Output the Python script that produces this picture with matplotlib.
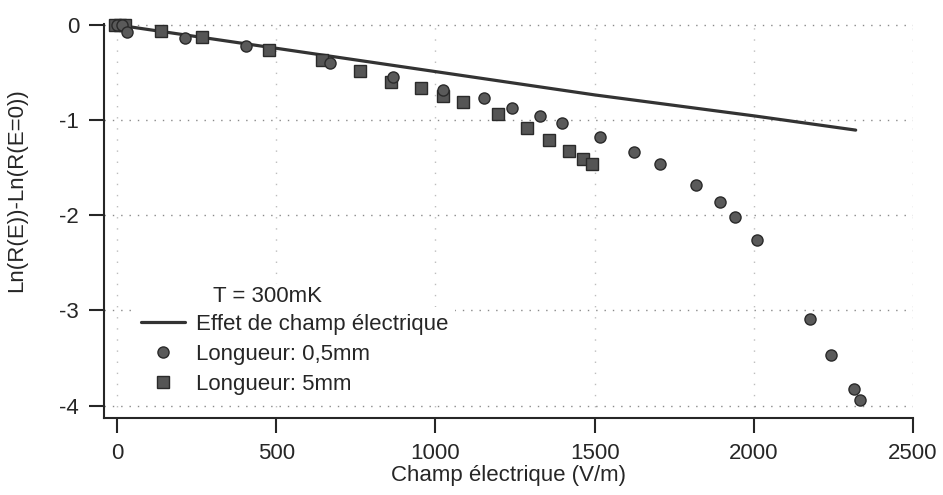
import matplotlib
matplotlib.use("Agg")
import matplotlib.pyplot as plt
from matplotlib.transforms import IdentityTransform

plt.rcParams['font.family'] = ['Liberation Sans', 'DejaVu Sans']
plt.rcParams['axes.unicode_minus'] = False

# Theoretical curve: electric field effect
line_x = [0, 500, 1000, 1500, 2000, 2320]
line_y = [0, -0.245, -0.49, -0.735, -0.955, -1.105]

# Length 0.5 mm (circles)
circ_x = [0, 15, 31, 214, 405, 670, 868, 1025, 1151, 1242, 1327, 1399, 1516,
          1623, 1705, 1818, 1893, 1940, 2009, 2177, 2242, 2315, 2334]
circ_y = [0, 0, -0.07, -0.14, -0.22, -0.40, -0.55, -0.68, -0.77, -0.87, -0.96,
          -1.03, -1.18, -1.33, -1.46, -1.68, -1.86, -2.02, -2.26, -3.09, -3.47,
          -3.83, -3.94]

# Length 5 mm (squares)
sq_x = [-5, 10, 25, 138, 267, 478, 644, 764, 860, 956, 1025, 1088, 1195, 1289,
        1358, 1418, 1465, 1491]
sq_y = [0, 0, 0, -0.06, -0.13, -0.26, -0.37, -0.48, -0.60, -0.66, -0.75, -0.81,
        -0.94, -1.08, -1.21, -1.32, -1.41, -1.46]

x_ticks = [0, 500, 1000, 1500, 2000, 2500]
y_ticks = [0, -1, -2, -3, -4]

fig = plt.figure(figsize=(9.43, 4.95), dpi=100)
ax = fig.add_axes([104/943, 1-418/495, (913-104)/943, (418-24)/495])

ink = '#262626'
fs = 16

ax.plot(line_x, line_y, color='#333333', lw=2.3, solid_capstyle='round',
        label='Effet de champ électrique', zorder=3)
ax.plot(sq_x, sq_y, ls='none', marker='s', ms=8.5, mfc='#555555', mec='#2a2a2a',
        mew=1.0, label='Longueur: 5mm', zorder=4, clip_on=False)
ax.plot(circ_x, circ_y, ls='none', marker='o', ms=8, mfc='#5a5a5a', mec='#2a2a2a',
        mew=1.0, label='Longueur: 0,5mm', zorder=4, clip_on=False)

ax.set_xlim(-41, 2500)
ax.set_ylim(-4.13, 0.01)
ax.set_xticks(x_ticks)
ax.set_yticks(y_ticks)

for s in ['top', 'right']:
    ax.spines[s].set_visible(False)
for s in ['left', 'bottom']:
    ax.spines[s].set_linewidth(1.5)
    ax.spines[s].set_color(ink)

ax.tick_params(axis='both', direction='out', length=11, width=1.5, color=ink,
               labelsize=fs, labelcolor=ink)
ax.tick_params(axis='y', pad=7)
ax.tick_params(axis='x', pad=7)

ax.yaxis.grid(True, color='#8a8a8a', lw=1.0, ls=(0, (1, 5)), zorder=0)
ax.xaxis.grid(True, color='#bdbdbd', lw=1.0, ls=(0, (1, 7)), zorder=0)

ax.set_xlabel('Champ électrique (V/m)', fontsize=fs, color=ink, labelpad=1)
ax.set_ylabel('Ln(R(E))-Ln(R(E=0))', fontsize=fs, color=ink)
ax.yaxis.set_label_coords(-0.095, 0.579)

handles, labels = ax.get_legend_handles_labels()
order = [0, 2, 1]
leg = ax.legend([handles[i] for i in order], [labels[i] for i in order],
                loc='upper left', bbox_to_anchor=(0.037, 0.282),
                frameon=True, fancybox=False, framealpha=1.0, edgecolor='none',
                facecolor='white', fontsize=fs, handlelength=2.0,
                handletextpad=0.5, labelspacing=0.42, borderpad=0.3,
                borderaxespad=0, labelcolor=ink)
leg.set_zorder(5)

ax.text(213, 495 - 297, 'T = 300mK', transform=IdentityTransform(),
        fontsize=fs, color=ink, va='center', zorder=6,
        bbox=dict(facecolor='white', edgecolor='none', pad=2))

fig.savefig('out.png', dpi=100, facecolor='white')
